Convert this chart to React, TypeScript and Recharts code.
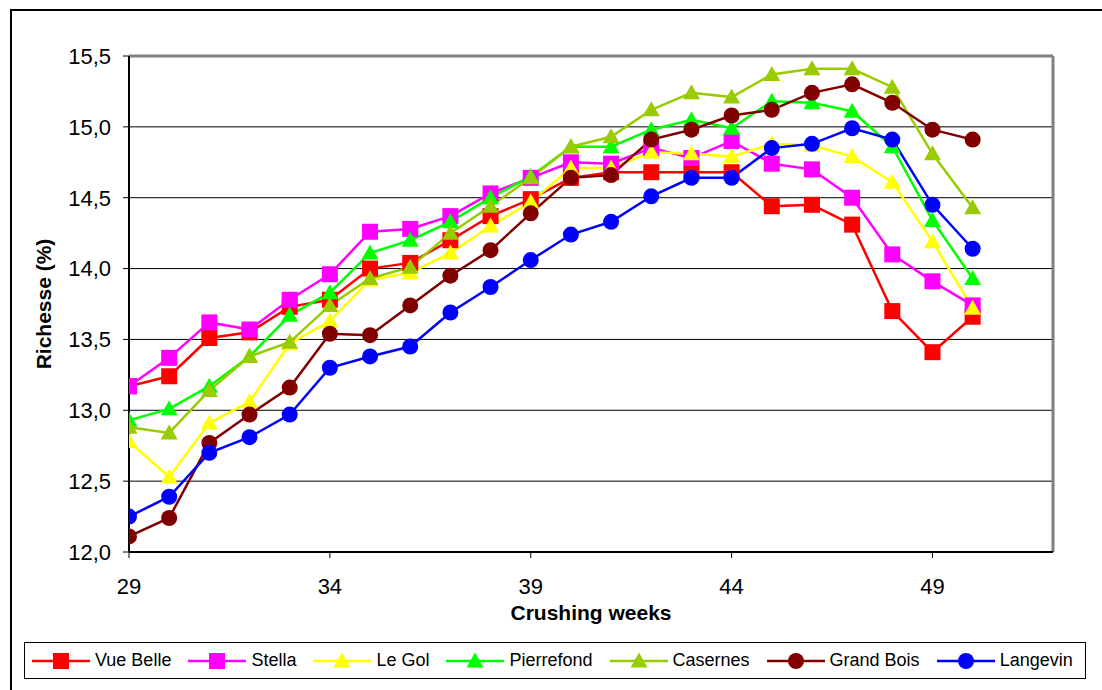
import React from 'react';
import { CartesianGrid, Label, Legend, Line, LineChart, ReferenceLine, XAxis, YAxis } from 'recharts';

const weeks = [29, 30, 31, 32, 33, 34, 35, 36, 37, 38, 39, 40, 41, 42, 43, 44, 45, 46, 47, 48, 49, 50];

const vueBelle = [13.17, 13.24, 13.51, 13.55, 13.73, 13.78, 14.0, 14.04, 14.2, 14.37, 14.49, 14.64, 14.68, 14.68, 14.68, 14.68, 14.44, 14.45, 14.31, 13.7, 13.41, 13.66];
const stella = [13.17, 13.37, 13.62, 13.57, 13.78, 13.96, 14.26, 14.28, 14.37, 14.53, 14.64, 14.75, 14.74, 14.85, 14.78, 14.9, 14.74, 14.7, 14.5, 14.1, 13.91, 13.74];
const leGol = [12.78, 12.53, 12.91, 13.06, 13.47, 13.63, 13.92, 13.97, 14.11, 14.3, 14.47, 14.71, 14.71, 14.82, 14.81, 14.79, 14.88, 14.87, 14.79, 14.61, 14.19, 13.72];
const pierrefond = [12.93, 13.01, 13.17, 13.38, 13.67, 13.83, 14.11, 14.2, 14.33, 14.5, 14.65, 14.86, 14.86, 14.98, 15.05, 14.99, 15.18, 15.17, 15.11, 14.86, 14.34, 13.93];
const casernes = [12.88, 12.84, 13.14, 13.38, 13.48, 13.74, 13.93, 14.01, 14.25, 14.44, 14.64, 14.86, 14.93, 15.12, 15.24, 15.21, 15.37, 15.41, 15.41, 15.28, 14.81, 14.43];
const grandBois = [12.11, 12.24, 12.77, 12.97, 13.16, 13.54, 13.53, 13.74, 13.95, 14.13, 14.39, 14.64, 14.66, 14.91, 14.98, 15.08, 15.12, 15.24, 15.3, 15.17, 14.98, 14.91];
const langevin = [12.25, 12.39, 12.7, 12.81, 12.97, 13.3, 13.38, 13.45, 13.69, 13.87, 14.06, 14.24, 14.33, 14.51, 14.64, 14.64, 14.85, 14.88, 14.99, 14.91, 14.45, 14.14];

const xTicks = [29, 34, 39, 44, 49];
const yTicks = [12, 12.5, 13, 13.5, 14, 14.5, 15, 15.5];

type Shape = 'square' | 'triangle' | 'circle';

const series: { key: string; name: string; color: string; shape: Shape; values: number[] }[] = [
  { key: 'vueBelle', name: 'Vue Belle', color: '#ff0000', shape: 'square', values: vueBelle },
  { key: 'stella', name: 'Stella', color: '#ff00ff', shape: 'square', values: stella },
  { key: 'leGol', name: 'Le Gol', color: '#ffff00', shape: 'triangle', values: leGol },
  { key: 'pierrefond', name: 'Pierrefond', color: '#00ff00', shape: 'triangle', values: pierrefond },
  { key: 'casernes', name: 'Casernes', color: '#99cc00', shape: 'triangle', values: casernes },
  { key: 'grandBois', name: 'Grand Bois', color: '#800000', shape: 'circle', values: grandBois },
  { key: 'langevin', name: 'Langevin', color: '#0000ff', shape: 'circle', values: langevin },
];

const data = weeks.map((week, i) => {
  const row: Record<string, number> = { week };
  series.forEach((s) => {
    row[s.key] = s.values[i];
  });
  return row;
});

const FONT = '"Liberation Sans", Arial, sans-serif';

function Marker({ shape, color, cx, cy }: { shape: Shape; color: string; cx: number; cy: number }) {
  if (shape === 'square') {
    return <rect x={cx - 8} y={cy - 8} width={16} height={16} fill={color} />;
  }
  if (shape === 'triangle') {
    return <polygon points={`${cx},${cy - 8.5} ${cx - 8.5},${cy + 6.5} ${cx + 8.5},${cy + 6.5}`} fill={color} />;
  }
  return <circle cx={cx} cy={cy} r={8} fill={color} />;
}

const makeDot = (shape: Shape, color: string) => (props: any) => {
  const { cx, cy, index } = props;
  if (cx == null || cy == null) return <g key={`dot-${index}`} />;
  return (
    <g key={`dot-${index}`}>
      <Marker shape={shape} color={color} cx={cx} cy={cy} />
    </g>
  );
};

function LegendBox() {
  return (
    <div
      style={{
        boxSizing: 'border-box',
        width: 1062,
        height: 37,
        border: '1.5px solid #000',
        background: '#fff',
        display: 'flex',
        alignItems: 'center',
        paddingLeft: 7,
        fontFamily: FONT,
        fontSize: 18,
        color: '#000',
        whiteSpace: 'nowrap',
      }}
    >
      {series.map((s) => (
        <div key={s.key} style={{ display: 'flex', alignItems: 'center', marginRight: 17 }}>
          <svg width={58} height={20} style={{ display: 'block' }}>
            <line x1={0} y1={10} x2={58} y2={10} stroke={s.color} strokeWidth={2.5} />
            <Marker shape={s.shape} color={s.color} cx={29} cy={10} />
          </svg>
          <span style={{ marginLeft: 5 }}>{s.name}</span>
        </div>
      ))}
    </div>
  );
}

export default function App() {
  return (
    <div style={{ position: 'absolute', left: 0, top: 0, width: 1102, height: 690, overflow: 'hidden', background: '#fff' }}>
      <div
        style={{
          position: 'absolute',
          left: 10,
          top: 9,
          width: 1200,
          height: 800,
          border: '2.5px solid #000',
          boxSizing: 'border-box',
        }}
      />
      <div style={{ position: 'absolute', left: 0, top: 0 }}>
        <LineChart
          width={1102}
          height={690}
          data={data}
          margin={{ top: 56, right: 49, bottom: 78, left: 0 }}
          style={{ fontFamily: FONT }}
        >
          <CartesianGrid vertical={false} stroke="#000" strokeWidth={1} />
          <ReferenceLine y={15.5} stroke="#808080" strokeWidth={3} />
          <ReferenceLine x={52} stroke="#808080" strokeWidth={3} />
          <XAxis
            dataKey="week"
            type="number"
            domain={[29, 52]}
            ticks={xTicks}
            allowDataOverflow
            height={60}
            stroke="#000"
            strokeWidth={2}
            tickSize={6}
            tickMargin={20}
            tickLine={{ stroke: '#000', strokeWidth: 1 }}
            tick={{ fill: '#000', fontSize: 22, fontFamily: FONT }}
          >
            <Label
              content={({ viewBox }: any) => (
                <text
                  x={viewBox.x + viewBox.width / 2}
                  y={612}
                  textAnchor="middle"
                  dominantBaseline="central"
                  fontFamily={FONT}
                  fontSize={21}
                  fontWeight="bold"
                  fill="#000"
                >
                  Crushing weeks
                </text>
              )}
            />
          </XAxis>
          <YAxis
            type="number"
            domain={[12, 15.5]}
            ticks={yTicks}
            width={129}
            stroke="#000"
            strokeWidth={2}
            tickSize={6}
            tickMargin={12}
            tickLine={{ stroke: '#000', strokeWidth: 1 }}
            tick={{ fill: '#000', fontSize: 22, fontFamily: FONT }}
            tickFormatter={(v: number) => v.toFixed(1).replace('.', ',')}
          >
            <Label
              content={({ viewBox }: any) => {
                const cx = 43;
                const cy = viewBox.y + viewBox.height / 2;
                return (
                  <text
                    x={cx}
                    y={cy}
                    transform={`rotate(-90 ${cx} ${cy})`}
                    textAnchor="middle"
                    dominantBaseline="central"
                    fontFamily={FONT}
                    fontSize={21}
                    fontWeight="bold"
                    fill="#000"
                  >
                    Richesse (%)
                  </text>
                );
              }}
            />
          </YAxis>
          <Legend
            layout="horizontal"
            verticalAlign="middle"
            align="center"
            wrapperStyle={{ left: 24, top: 642, width: 1062, height: 37 }}
            content={() => <LegendBox />}
          />
          {series.map((s) => (
            <Line
              key={s.key}
              type="linear"
              dataKey={s.key}
              name={s.name}
              stroke={s.color}
              strokeWidth={2.5}
              dot={makeDot(s.shape, s.color)}
              activeDot={false}
              isAnimationActive={false}
            />
          ))}
        </LineChart>
      </div>
    </div>
  );
}
